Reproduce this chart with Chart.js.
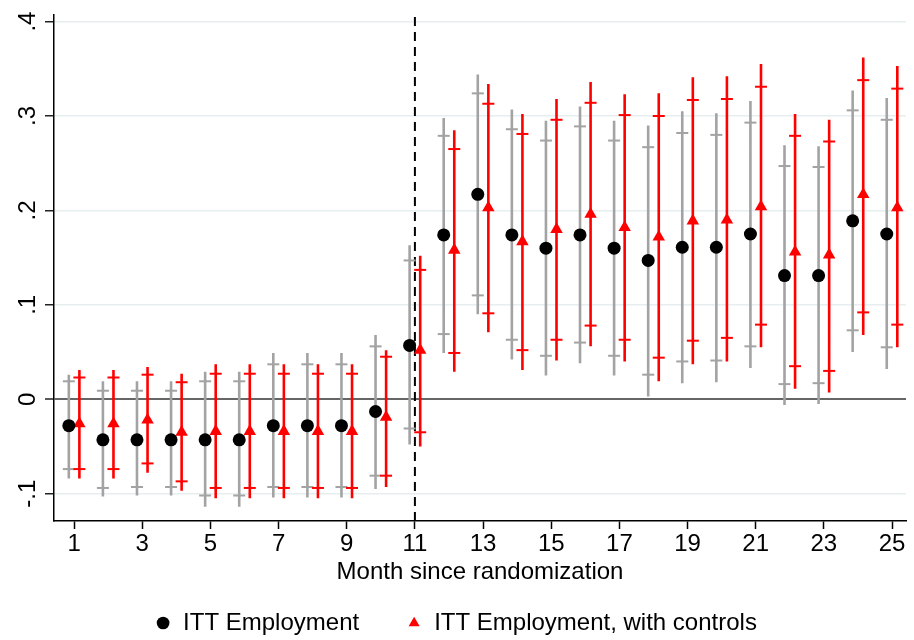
<!DOCTYPE html>
<html>
<head>
<meta charset="utf-8">
<script src="https://cdn.jsdelivr.net/npm/chart.js@4/dist/chart.umd.min.js"></script>
<style>
  html, body { margin: 0; padding: 0; background: #fff; }
  #wrap { width: 914px; height: 640px; position: relative; }
</style>
</head>
<body>
<div id="wrap"><canvas id="c" width="914" height="640"></canvas></div>
<script>
// ---------- data ----------
const months = [1,2,3,4,5,6,7,8,9,10,11,12,13,14,15,16,17,18,19,20,21,22,23,24,25];

// ITT Employment (black circles, grey CIs)
const ittEst  = [-0.028,-0.043,-0.043,-0.043,-0.043,-0.043,-0.028,-0.028,-0.028,-0.013,0.057,0.174,0.217,0.174,0.160,0.174,0.160,0.147,0.161,0.161,0.175,0.131,0.131,0.189,0.175];
const ittLo95 = [-0.084,-0.103,-0.102,-0.102,-0.114,-0.114,-0.104,-0.104,-0.104,-0.095,-0.048,0.049,0.090,0.042,0.025,0.038,0.025,0.003,0.017,0.018,0.033,-0.006,-0.005,0.050,0.032];
const ittHi95 = [0.026,0.019,0.019,0.019,0.029,0.029,0.049,0.049,0.049,0.068,0.163,0.298,0.344,0.307,0.295,0.310,0.295,0.290,0.305,0.303,0.316,0.269,0.268,0.327,0.319];
const ittLo90 = [-0.074,-0.094,-0.093,-0.093,-0.102,-0.102,-0.093,-0.093,-0.093,-0.081,-0.031,0.069,0.110,0.063,0.046,0.060,0.046,0.026,0.040,0.041,0.056,0.016,0.017,0.073,0.055];
const ittHi90 = [0.019,0.009,0.009,0.009,0.019,0.019,0.037,0.037,0.037,0.056,0.147,0.279,0.324,0.286,0.274,0.289,0.274,0.267,0.282,0.280,0.293,0.247,0.246,0.306,0.296];

// ITT Employment, with controls (red triangles, red CIs)
const ctlEst  = [-0.026,-0.026,-0.022,-0.035,-0.034,-0.034,-0.034,-0.034,-0.034,-0.019,0.052,0.158,0.203,0.167,0.180,0.196,0.182,0.172,0.189,0.190,0.204,0.156,0.153,0.217,0.203];
const ctlLo95 = [-0.084,-0.084,-0.078,-0.097,-0.105,-0.105,-0.105,-0.105,-0.105,-0.093,-0.050,0.029,0.071,0.031,0.041,0.056,0.040,0.019,0.037,0.040,0.055,0.011,0.007,0.068,0.055];
const ctlHi95 = [0.031,0.031,0.034,0.027,0.037,0.037,0.037,0.037,0.037,0.052,0.152,0.285,0.334,0.302,0.318,0.336,0.323,0.324,0.341,0.342,0.355,0.302,0.296,0.362,0.353];
const ctlLo90 = [-0.074,-0.074,-0.068,-0.087,-0.094,-0.094,-0.094,-0.094,-0.094,-0.081,-0.035,0.049,0.091,0.052,0.063,0.078,0.063,0.044,0.062,0.065,0.079,0.035,0.030,0.092,0.079];
const ctlHi90 = [0.023,0.023,0.026,0.018,0.027,0.027,0.027,0.027,0.027,0.045,0.137,0.265,0.313,0.281,0.296,0.314,0.301,0.300,0.317,0.318,0.331,0.279,0.273,0.338,0.329];

const xTicks = [1,3,5,7,9,11,13,15,17,19,21,23,25];
const yTicks = [-0.1, 0, 0.1, 0.2, 0.3, 0.4];
const yTickLabels = ["-.1", "0", ".1", ".2", ".3", ".4"];
const treatmentMonth = 11;
const seriesNames = ["ITT Employment", "ITT Employment, with controls"];
const xTitle = "Month since randomization";

// ---------- styling ----------
const FONT = "'Liberation Sans', Arial, sans-serif";
const GREY = '#a3a3a3';
const RED = '#ff0000';
const xMin = 0.41, xMax = 25.41, yMin = -0.129, yMax = 0.407;
const offIt = -0.155, offCt = 0.155;

function pts(est, off) { return months.map((m, i) => ({x: m + off, y: est[i]})); }
function ciLines(lo, hi, off) {
  const out = [];
  months.forEach((m, i) => {
    out.push({x: m + off, y: lo[i]}, {x: m + off, y: hi[i]}, {x: m + off, y: null});
  });
  return out;
}
function caps(lo, hi, off) {
  const out = [];
  months.forEach((m, i) => { out.push({x: m + off, y: lo[i]}, {x: m + off, y: hi[i]}); });
  return out;
}

const rotatedYLabels = {
  id: 'rotatedYLabels',
  afterDraw(chart) {
    const ys = chart.scales.y, ctx = chart.ctx;
    ctx.save();
    ctx.fillStyle = '#000';
    ctx.font = '24px ' + FONT;
    ctx.textAlign = 'center';
    ctx.textBaseline = 'middle';
    yTicks.forEach((v, i) => {
      const py = ys.getPixelForValue(v);
      ctx.save();
      ctx.translate(28, py);
      ctx.rotate(-Math.PI / 2);
      ctx.fillText(yTickLabels[i], 0, 0);
      ctx.restore();
    });
    ctx.restore();
  }
};

new Chart(document.getElementById('c'), {
  type: 'scatter',
  data: {
    datasets: [
      { label: seriesNames[0], data: pts(ittEst, offIt), pointStyle: 'circle', pointRadius: 6.5,
        backgroundColor: '#000', borderColor: '#000', borderWidth: 0 },
      { label: seriesNames[1], data: pts(ctlEst, offCt), pointStyle: 'triangle', pointRadius: 7.2,
        backgroundColor: RED, borderColor: RED, borderWidth: 0 },
      { label: 'ctl90', data: caps(ctlLo90, ctlHi90, offCt), pointStyle: 'line', pointRadius: 6,
        borderColor: RED, backgroundColor: RED, borderWidth: 2 },
      { label: 'ctl95', data: ciLines(ctlLo95, ctlHi95, offCt), showLine: true, spanGaps: false,
        pointRadius: 0, borderColor: RED, borderWidth: 2.6 },
      { label: 'itt90', data: caps(ittLo90, ittHi90, offIt), pointStyle: 'line', pointRadius: 6,
        borderColor: GREY, backgroundColor: GREY, borderWidth: 2 },
      { label: 'itt95', data: ciLines(ittLo95, ittHi95, offIt), showLine: true, spanGaps: false,
        pointRadius: 0, borderColor: GREY, borderWidth: 2.6 },
      { label: 'treat', data: [{x: treatmentMonth, y: yMin}, {x: treatmentMonth, y: yMax}], showLine: true,
        pointRadius: 0, borderColor: '#000', borderWidth: 2, borderDash: [9, 6] }
    ]
  },
  options: {
    responsive: false,
    animation: false,
    events: [],
    layout: { padding: { left: 0, right: 2, top: 15, bottom: -5 } },
    plugins: {
      tooltip: { enabled: false },
      legend: {
        position: 'bottom',
        labels: {
          filter: (item) => item.datasetIndex < 2,
          usePointStyle: true, boxWidth: 16, boxHeight: 9, padding: 47,
          color: '#000', font: { family: FONT, size: 24 }
        }
      }
    },
    scales: {
      x: {
        type: 'linear', min: xMin, max: xMax,
        afterBuildTicks: (s) => { s.ticks = xTicks.map(v => ({value: v})); },
        afterFit: (s) => { s.height = 43; s.paddingLeft = 0; s.paddingRight = 0; },
        grid: { drawOnChartArea: false, color: 'rgba(0,0,0,0)', tickColor: '#000', tickLength: 8, tickWidth: 1.5 },
        border: { color: '#000', width: 1.5 },
        ticks: { color: '#000', font: { family: FONT, size: 24 }, padding: 1, maxRotation: 0, autoSkip: false,
                 callback: (v) => String(v) },
        title: { display: true, text: xTitle, color: '#000', font: { family: FONT, size: 24 },
                 padding: { top: 0, bottom: -23 } }
      },
      y: {
        type: 'linear', min: yMin, max: yMax,
        afterBuildTicks: (s) => { s.ticks = yTicks.map(v => ({value: v})); },
        afterFit: (s) => { s.width = 54; },
        grid: {
          color: (c) => (c.tick && c.tick.value === 0) ? '#666666' : '#e6eef0',
          lineWidth: (c) => (c.tick && c.tick.value === 0) ? 2 : 1.5,
          tickColor: '#222', tickLength: 9, tickWidth: 1.5
        },
        border: { color: '#000', width: 1.5 },
        ticks: { display: false }
      }
    }
  },
  plugins: [rotatedYLabels]
});
</script>
</body>
</html>
